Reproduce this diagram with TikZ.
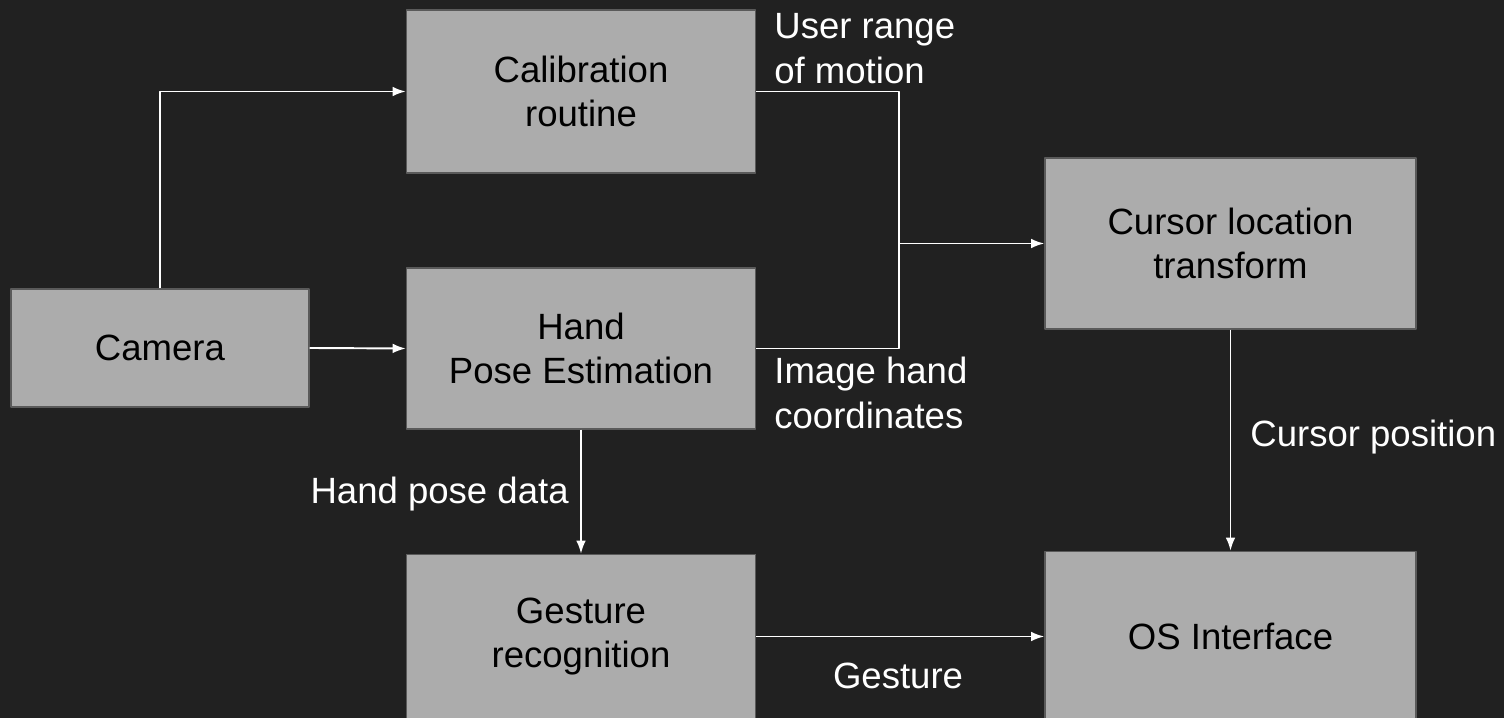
\documentclass[tikz,border=0pt]{standalone}
\usepackage{fontspec}
\setmainfont{Liberation Sans}
\usetikzlibrary{arrows.meta}
\definecolor{bgdark}{HTML}{212121}
\definecolor{boxgray}{HTML}{ACACAC}
\definecolor{boxedge}{HTML}{5A5A5A}
\begin{document}
\begin{tikzpicture}[>={Latex[length=7.5pt,width=5.5pt]},line join=round,font=\fontsize{20.8}{25.2}\selectfont]
	\tikzset{
		blok/.style={draw=boxedge,line width=0.8pt,fill=boxgray,text=black,align=center,inner sep=0pt},
		lab/.style={text=white,align=left,inner sep=0pt},
		ln/.style={draw=white,line width=1.1pt}
	}
	\fill[bgdark] (0,0) rectangle (30.08,14.36);
	\useasboundingbox (0,0) rectangle (30.08,14.36);
	% blocks
	\node[blok,minimum width=5.96cm,minimum height=2.36cm] (cam) at (3.2,7.4) {Camera};
	\node[blok,minimum width=6.98cm,minimum height=3.26cm] (calib) at (11.62,12.53) {Calibration\\routine};
	\node[blok,minimum width=6.98cm,minimum height=3.22cm] (hand) at (11.62,7.39) {Hand\\Pose Estimation};
	\node[blok,minimum width=6.98cm,minimum height=3.28cm] (gest) at (11.62,1.63) {Gesture\\recognition};
	\node[blok,minimum width=7.42cm,minimum height=3.42cm] (curs) at (24.61,9.49) {Cursor location\\transform};
	\node[blok,minimum width=7.42cm,minimum height=3.4cm] (os) at (24.61,1.63) {OS Interface};
	% connectors
	\path (curs.west)++(-2.9,0) coordinate (jn);
	\draw[ln,->] (cam.north) |- (calib.west);
	\draw[ln,->] (cam.east) -- (hand.west);
	\draw[ln] (calib.east) -| (jn);
	\draw[ln] (hand.east) -| (jn);
	\draw[ln,->] (jn) -- (curs.west);
	\draw[ln,->] (hand.south) -- (gest.north);
	\draw[ln,->] (gest.east) -- (os.west);
	\draw[ln,->] (curs.south) -- (os.north);
	% labels
	\node[lab,anchor=west] (lrange) at (15.48,13.39) {User range\\of motion};
	\node[lab,anchor=west] (lcoord) at (15.48,6.5) {Image hand\\coordinates};
	\node[lab,anchor=base east] (lpose) at (11.38,4.28) {Hand pose data};
	\node[lab,anchor=base] (lgest) at (17.96,0.58) {Gesture};
	\node[lab,anchor=base west] (lcpos) at (25.0,5.42) {Cursor position};
\end{tikzpicture}
\end{document}
